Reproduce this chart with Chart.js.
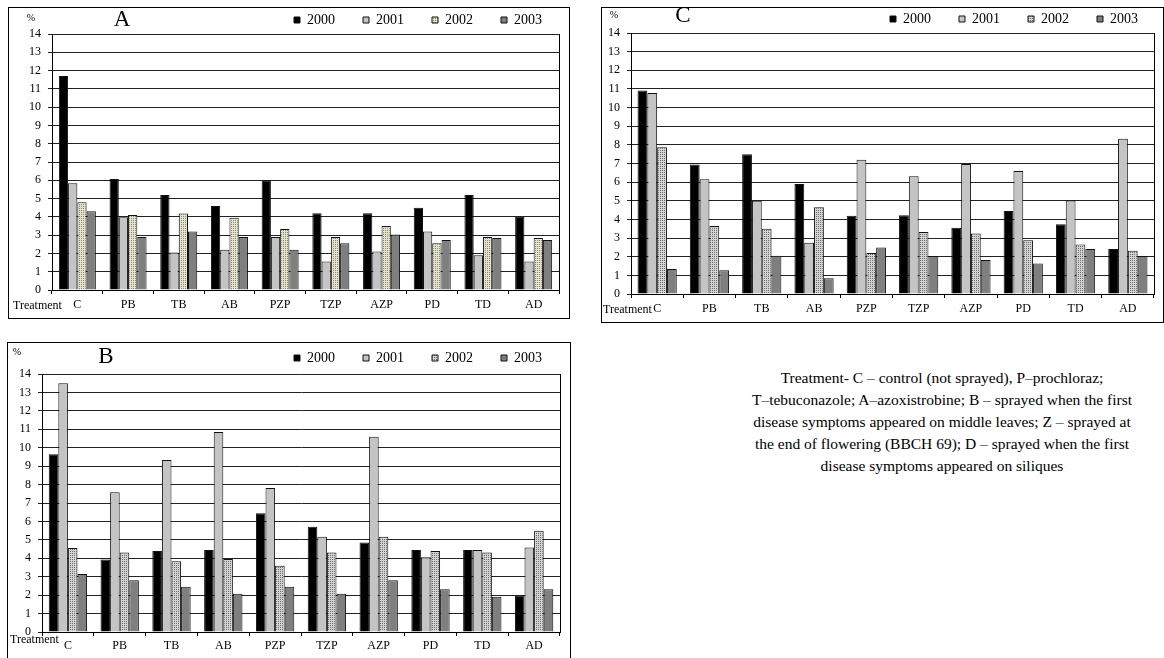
<!DOCTYPE html>
<html>
<head>
<meta charset="utf-8">
<script src="https://cdn.jsdelivr.net/npm/chart.js@4.4.1/dist/chart.umd.min.js"></script>
<style>
  body { margin:0; background:#fff; width:1164px; height:658px; overflow:hidden; position:relative; font-family:'Liberation Serif', 'Times New Roman', serif; }
  .box { position:absolute; border:1px solid #000; box-sizing:border-box; }
  .box canvas { position:absolute; left:0; top:0; }
  .lbl { position:absolute; color:#000; white-space:nowrap; line-height:1; transform:translateY(-50%); z-index:2; }
  .mid { transform:translate(-50%,-50%); }
  #note { position:absolute; left:642px; width:600px; top:367px; text-align:center; font-size:15.5px; line-height:22px; color:#000; white-space:nowrap; }
</style>
</head>
<body>

<div class="box" style="left:8px;top:7px;width:562px;height:312px;"><canvas id="chartA" width="560" height="310"></canvas></div>
<div class="box" style="left:7px;top:342px;width:564px;height:330px;"><canvas id="chartB" width="562" height="314"></canvas></div>
<div class="box" style="left:601px;top:7px;width:563px;height:316px;"><canvas id="chartC" width="561" height="314"></canvas></div>

<span class="lbl mid" style="left:31px;top:18px;font-size:10px;">%</span>
<span class="lbl mid" style="left:122px;top:18px;font-size:23px;">A</span>
<span class="lbl" style="left:13px;top:305px;font-size:12px;">Treatment</span>

<span class="lbl mid" style="left:17px;top:352px;font-size:10px;">%</span>
<span class="lbl mid" style="left:106px;top:355px;font-size:23px;">B</span>
<span class="lbl" style="left:10px;top:639px;font-size:12px;">Treatment</span>

<span class="lbl mid" style="left:614px;top:15px;font-size:10px;">%</span>
<span class="lbl mid" style="left:683px;top:14px;font-size:23px;">C</span>
<span class="lbl" style="left:603px;top:309px;font-size:12px;">Treatment</span>

<div id="note">Treatment- C – control (not sprayed), P–prochloraz;<br>T–tebuconazole; A–azoxistrobine; B – sprayed when the first<br>disease symptoms appeared on middle leaves; Z – sprayed at<br>the end of flowering (BBCH 69); D – sprayed when the first<br>disease symptoms appeared on siliques</div>

<script>
const treatments = ['C', 'PB', 'TB', 'AB', 'PZP', 'TZP', 'AZP', 'PD', 'TD', 'AD'];
const years = ['2000', '2001', '2002', '2003'];
const yMin = 0;
const yMax = 14;

// chart A
const a2000 = [11.7, 6.07, 5.2, 4.6, 6.0, 4.2, 4.2, 4.5, 5.2, 4.0];
const a2001 = [5.84, 3.98, 2.05, 2.2, 2.9, 1.56, 2.1, 3.2, 1.9, 1.56];
const a2002 = [4.8, 4.1, 4.18, 3.95, 3.33, 2.9, 3.5, 2.55, 2.9, 2.84];
const a2003 = [4.3, 2.9, 3.2, 2.9, 2.2, 2.55, 3.04, 2.73, 2.84, 2.73];

// chart B
const b2000 = [9.64, 3.93, 4.4, 4.45, 6.45, 5.71, 4.86, 4.45, 4.45, 1.98];
const b2001 = [13.5, 7.59, 9.33, 10.85, 7.82, 5.17, 10.6, 4.05, 4.45, 4.58];
const b2002 = [4.56, 4.32, 3.84, 3.96, 3.6, 4.32, 5.17, 4.4, 4.32, 5.5];
const b2003 = [3.15, 2.81, 2.45, 2.07, 2.45, 2.07, 2.81, 2.32, 1.91, 2.32];

// chart C
const c2000 = [10.92, 6.95, 7.5, 5.9, 4.2, 4.22, 3.56, 4.45, 3.74, 2.41];
const c2001 = [10.78, 6.15, 5.0, 2.75, 7.2, 6.31, 6.97, 6.6, 5.02, 8.33];
const c2002 = [7.87, 3.65, 3.5, 4.65, 2.2, 3.33, 3.25, 2.88, 2.65, 2.32];
const c2003 = [1.34, 1.27, 2.05, 0.85, 2.5, 2.04, 1.82, 1.64, 2.41, 2.04];

const serif = "'Liberation Serif', 'Times New Roman', serif";

function dotPattern(base, dot){
  const c = document.createElement('canvas');
  c.width = 4; c.height = 4;
  const g = c.getContext('2d');
  g.fillStyle = base;
  g.fillRect(0, 0, 4, 4);
  g.fillStyle = dot;
  g.fillRect(0, 0, 1, 1);
  g.fillRect(2, 2, 1, 1);
  g.fillRect(2, 0, 1, 1);
  g.fillRect(0, 2, 1, 1);
  return g.createPattern(c, 'repeat');
}

// legend takes no room, then is moved to where the picture has it
const legendPlace = {
  id: 'legendPlace',
  afterInit(chart){
    const originalFit = chart.legend.fit;
    chart.legend.fit = function fit(){
      originalFit.call(this);
      this.height = 0;
    }
  },
  afterLayout(chart, args, opts){
    const lg = chart.legend;
    const pad = lg.options.labels.padding;
    lg.left = opts.x - pad;
    lg.top = opts.y - 7 - pad;
    lg.right = lg.left + 1000;
    lg.bottom = lg.top + 200;
  }
}

// right edge of the plot frame
const plotFrame = {
  id: 'plotFrame',
  afterDraw(chart){
    const {ctx, chartArea} = chart;
    const x = Math.round(chartArea.right) + 0.5;
    ctx.save();
    ctx.strokeStyle = '#000';
    ctx.lineWidth = 1;
    ctx.beginPath();
    ctx.moveTo(x, Math.round(chartArea.top));
    ctx.lineTo(x, Math.round(chartArea.bottom));
    ctx.stroke();
    ctx.restore();
  }
}

function createChart(id, s2000, s2001, s2002, s2003, cfg){
  const ctx = document.getElementById(id);
  const pat = dotPattern(cfg.patBase, cfg.patDot);
  const colors = ['#000000', '#c4c4c4', pat, '#7f7f7f'];
  const values = [s2000, s2001, s2002, s2003];

  new Chart(ctx, {
    type: 'bar',
    plugins: [legendPlace, plotFrame],
    data: {
      labels: treatments,
      datasets: years.map((y, i) => ({
        label: y,
        data: values[i],
        backgroundColor: colors[i],
        borderColor: '#111',
        borderWidth: 1,
        borderSkipped: 'bottom',
        barPercentage: 1,
        categoryPercentage: cfg.catPct
      }))
    },
    options: {
      responsive: false,
      animation: false,
      devicePixelRatio: 1,
      layout: {
        padding: {top: cfg.top, left: 0, right: cfg.right, bottom: 0}
      },
      plugins: {
        legend: {
          display: true,
          align: 'start',
          labels: {
            boxWidth: 6,
            boxHeight: 6,
            padding: 28,
            color: '#000',
            font: {family: serif, size: 14}
          }
        },
        legendPlace: {x: cfg.legX, y: cfg.legY},
        tooltip: {enabled: false}
      },
      scales: {
        x: {
          offset: true,
          grid: {
            offset: true,
            drawOnChartArea: false,
            drawTicks: true,
            tickLength: 4,
            color: '#000'
          },
          border: {display: true, color: '#000', width: 1},
          ticks: {
            color: '#000',
            font: {family: serif, size: 12},
            padding: cfg.xPad,
            maxRotation: 0,
            autoSkip: false
          },
          afterFit(scale){ scale.height = cfg.xHeight; }
        },
        y: {
          min: yMin,
          max: yMax,
          grid: {
            color: '#222',
            lineWidth: 1,
            drawTicks: true,
            tickLength: 4
          },
          border: {display: true, color: '#000', width: 1},
          ticks: {
            stepSize: 1,
            color: '#000',
            font: {family: serif, size: 12},
            padding: cfg.yPad
          },
          afterFit(scale){ scale.width = cfg.yWidth; }
        }
      }
    }
  });
}

createChart('chartA', a2000, a2001, a2002, a2003, {
  top: 26, right: 10, yWidth: 43, xHeight: 28, catPct: 0.73,
  legX: 285, legY: 12, xPad: 4, yPad: 7,
  patBase: '#e4e4cc', patDot: '#8a8a74'
});

createChart('chartB', b2000, b2001, b2002, b2003, {
  top: 31, right: 10, yWidth: 34, xHeight: 25, catPct: 0.74,
  legX: 286, legY: 15, xPad: 3, yPad: 7,
  patBase: '#d4d4d4', patDot: '#6a6a6a'
});

createChart('chartC', c2000, c2001, c2002, c2003, {
  top: 25, right: 9, yWidth: 29, xHeight: 28, catPct: 0.75,
  legX: 288, legY: 11, xPad: 4, yPad: 7,
  patBase: '#d4d4d4', patDot: '#6a6a6a'
});
</script>
</body>
</html>
